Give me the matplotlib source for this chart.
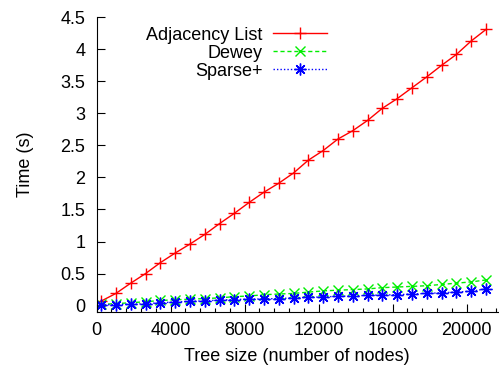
import numpy as np
import matplotlib
matplotlib.use("Agg")
import matplotlib.pyplot as plt
from matplotlib.ticker import MultipleLocator, FormatStrFormatter

plt.rcParams['font.family'] = ['Liberation Sans', 'DejaVu Sans']

# tree sizes (number of nodes)
sizes = [250, 1050, 1850, 2650, 3450, 4250, 5050, 5850, 6650, 7450,
         8250, 9050, 9850, 10650, 11450, 12250, 13050, 13850, 14650, 15450,
         16250, 17050, 17850, 18650, 19450, 20250, 21050]

# time in seconds
adjacency = [0.07, 0.19, 0.35, 0.50, 0.67, 0.82, 0.96, 1.11, 1.28, 1.44,
             1.61, 1.77, 1.91, 2.07, 2.27, 2.42, 2.60, 2.73, 2.89, 3.08,
             3.23, 3.40, 3.57, 3.75, 3.92, 4.13, 4.31]
dewey = [0.02, 0.03, 0.045, 0.06, 0.08, 0.09, 0.10, 0.11, 0.12, 0.14,
         0.15, 0.17, 0.18, 0.19, 0.21, 0.23, 0.24, 0.25, 0.26, 0.28,
         0.29, 0.30, 0.31, 0.33, 0.35, 0.37, 0.40]
sparse = [0.01, 0.015, 0.02, 0.03, 0.045, 0.055, 0.065, 0.075, 0.085, 0.095,
          0.10, 0.105, 0.11, 0.12, 0.13, 0.135, 0.145, 0.15, 0.16, 0.165,
          0.17, 0.18, 0.19, 0.20, 0.21, 0.225, 0.26]

fs = 13

fig = plt.figure(figsize=(4.99, 3.67), dpi=100)
ax = fig.add_axes([96.5/499, 55/367, (498 - 96.5)/499, (349.7 - 55)/367])

ax.plot(sizes, adjacency, color='#ff0000', lw=1, marker='+', ms=8, mew=1,
        label='Adjacency List')
ax.plot(sizes, dewey, color='#00ee00', lw=1, ls=(0, (3, 2)), marker='x', ms=7,
        mew=1, label='Dewey')
ax.plot(sizes, sparse, color='#0000ff', lw=1, ls=(0, (1, 1.5)), marker=(8, 2, 0),
        ms=8.5, mew=1, label='Sparse+')

ax.set_xlim(0, 21700)
ax.set_ylim(-0.1, 4.5)
ax.xaxis.set_major_locator(MultipleLocator(4000))
ax.xaxis.set_minor_locator(MultipleLocator(800))
ax.yaxis.set_major_locator(MultipleLocator(0.5))
ax.yaxis.set_major_formatter(FormatStrFormatter('%g'))

for side in ['top', 'right']:
    ax.spines[side].set_visible(False)
ax.tick_params(direction='in', labelsize=fs, width=0.8)
ax.tick_params(axis='x', which='major', length=6, pad=7)
ax.tick_params(axis='x', which='minor', length=3, width=0.8, direction='in')
ax.tick_params(axis='y', which='major', length=6, pad=8)

ax.set_xlabel('Tree size (number of nodes)', fontsize=fs, labelpad=7)
ax.set_ylabel('Time (s)', fontsize=fs, labelpad=19)

# markerfirst=False right-aligns the rows, so labels line up on the right
leg = ax.legend(loc='upper right', bbox_to_anchor=(0.574, 0.968), frameon=False,
                markerfirst=False, fontsize=fs, handlelength=3.0,
                labelspacing=0.05, handletextpad=0.57, borderpad=0,
                borderaxespad=0)

fig.savefig('out.png', dpi=100)
